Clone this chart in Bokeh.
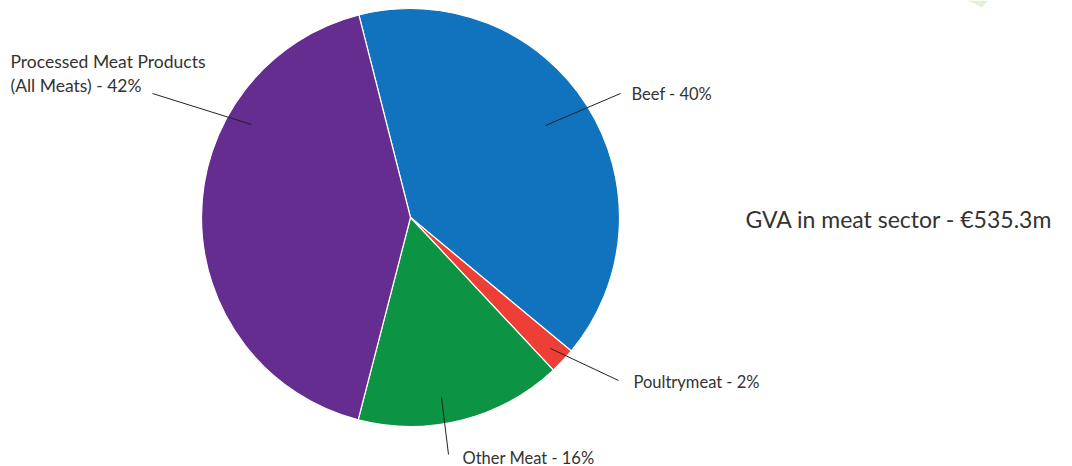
import numpy as np
from bokeh.plotting import figure
from bokeh.models import Range1d, ColumnDataSource
from bokeh.core.properties import value
from bokeh.embed import file_html
from bokeh.resources import INLINE

# GVA split of the meat sector (percent of total)
categories = ["Beef", "Poultrymeat", "Other Meat", "Processed Meat Products\n(All Meats)"]
shares = [40, 2, 16, 42]
colors = ["#1172be", "#ee3f37", "#0c9444", "#662d91"]
total_label = "GVA in meat sector - €535.3m"

W, H = 1072, 466
cx, cy, R = 410, H - 217, 209
start_deg = -14.3  # clockwise from 12 o'clock

p = figure(width=W, height=H, output_backend="svg", toolbar_location=None,
           x_range=Range1d(0, W), y_range=Range1d(0, H), min_border=0)
p.axis.visible = False
p.grid.visible = False
p.outline_line_color = None
p.background_fill_color = "white"

# wedge angles: clockwise from top -> bokeh's counter-clockwise from +x
frac = np.array(shares, dtype=float) / sum(shares)
cum = np.concatenate([[0], np.cumsum(frac)]) * 360 + start_deg
theta1, theta2 = cum[:-1], cum[1:]
src = ColumnDataSource(dict(
    start=np.radians(90 - theta2), end=np.radians(90 - theta1),
    color=colors, name=categories))
p.wedge(x=cx, y=cy, radius=R, start_angle="start", end_angle="end",
        fill_color="color", line_color="white", line_width=1.2, source=src)

# leader lines (pixel layout, y measured from top)
leaders = [
    ((545, 125), (620, 93)),
    ((550, 348), (618, 380)),
    ((441, 397), (448, 454)),
    ((251, 124), (152, 93)),
]
for (x0, y0), (x1, y1) in leaders:
    p.line([x0, x1], [H - y0, H - y1], line_color="#222222", line_width=1)

font = value("Lato")
lab_color = "#333333"
lab_size = "16.5px"
labels = [
    (f"{categories[0]} - {shares[0]}%", 631, 93, "left"),
    (f"{categories[1]} - {shares[1]}%", 633, 381, "left"),
    (f"{categories[2]} - {shares[2]}%", 462, 457, "left"),
]
for txt, x, y, align in labels:
    p.text(x=[x], y=[H - y], text=[txt], text_font=font, text_font_size=lab_size,
           text_color=lab_color, text_align=align, text_baseline="middle")

proc_lines = categories[3].split("\n")
proc_lines[-1] += f" - {shares[3]}%"
for i, line in enumerate(proc_lines):
    p.text(x=[10], y=[H - (61 + 24 * i)], text=[line], text_font=font,
           text_font_size="17.5px", text_color=lab_color, text_baseline="middle")

p.text(x=[745], y=[H - 218], text=[total_label], text_font=font,
       text_font_size="23px", text_color=lab_color, text_baseline="middle")

# small decorative shape in the top corner
p.patch([966, 988, 981, 974], [H, H, H - 7, H - 3], fill_color="#e6f1d3",
        line_color=None)

open("out.html", "w").write(file_html(p, INLINE))
